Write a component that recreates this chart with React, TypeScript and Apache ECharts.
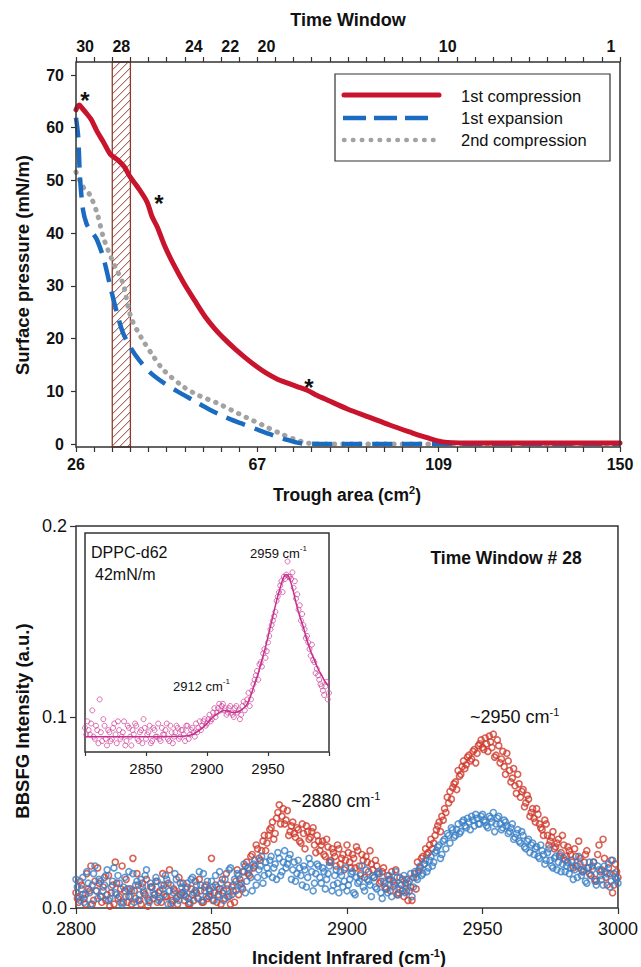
import React, { useEffect, useRef } from 'react';
import * as echarts from 'echarts';

const FONT = '"Liberation Sans", Arial, Helvetica, sans-serif';

// ---------- Top panel: isotherms (trough area cm^2 vs surface pressure mN/m) ----------
const compressionArea = [26, 26.7, 27.5, 28.5, 29.5, 30.8, 32.3, 33.8, 35.5, 37, 38.3, 40, 42.2, 43.3, 44.5, 46.2, 48.1, 50.6, 53, 55.4, 57.7, 60, 62.3, 64.7, 67, 69.3, 71.7, 74.1, 76.4, 78.7, 81, 83.4, 88, 92.8, 97.5, 102, 106, 109.6, 115, 130, 150];
const compressionPressure = [63.4, 64.3, 63.6, 62.6, 61.5, 59.3, 57.2, 55, 53.9, 52.6, 50.7, 48.8, 45.9, 43.2, 41.2, 37.6, 34.3, 30.5, 27.3, 24.2, 21.8, 19.8, 18.0, 16.3, 14.8, 13.5, 12.4, 11.6, 10.9, 10.2, 9.2, 8.3, 6.6, 5.1, 3.6, 2.3, 1.2, 0.4, 0.2, 0.2, 0.2];

const expansionArea = [26, 26.5, 26.9, 27.6, 28.4, 29.2, 30, 30.8, 32.2, 33, 34, 35.3, 36.7, 38.5, 40.4, 43, 46, 49.3, 52.7, 56.3, 60, 63.7, 67.5, 70.8, 74.1, 77.7, 85, 100, 120, 150];
const expansionPressure = [61.9, 58.3, 50.7, 44.4, 41.8, 40.6, 39.8, 38.7, 35.5, 32.8, 29.2, 25.0, 21.1, 18.2, 15.9, 13.5, 11.6, 9.9, 8.3, 6.6, 5.1, 3.9, 2.7, 1.7, 0.8, 0.1, 0, 0, 0, 0];

const compression2Area = [26, 27.6, 29.2, 30.8, 32.2, 33.3, 35, 36.7, 38.5, 40.8, 43.5, 46, 50.6, 54, 58.1, 61.5, 64.7, 68.5, 72.3, 75.5, 78.7, 82, 90, 110, 130, 150];
const compression2Pressure = [51.6, 48.8, 47.2, 43.8, 39.3, 36.8, 33.5, 30.5, 24.1, 20.3, 16.8, 14.0, 10.8, 9.2, 7.8, 6.4, 5.1, 3.6, 2.1, 1.0, 0.2, 0, 0, 0, 0, 0];

const seriesNames = ['1st compression', '1st expansion', '2nd compression'];
const timeWindows = ['30', '29', '28', '27', '26', '25', '24', '23', '22', '21', '20', '19', '18', '17', '16', '15', '14', '13', '12', '11', '10', '9', '8', '7', '6', '5', '4', '3', '2', '1'];
const timeWindowLabels = ['30', '28', '24', '22', '20', '10', '1'];
const troughTickLabels = ['26', '67', '109', '150'];
const hatchWindow = '28';

// ---------- Bottom panel: BBSFG spectra (intensity in 10^-3 a.u.) ----------
const irStart = 2800;
const irHalfStart = 2800.5;
const irStep = 1;
const redSignal = [
  8, 3, 12, 5, 18, 9, 2, 14, 21, 6,
  11, 4, 17, 8, 2, 13, 6, 22, 9, 3,
  10, 26, 5, 12, 2, 8, 15, 4, 11, 7,
  3, 9, 18, 6, 13, 2, 10, 5, 16, 8,
  4, 11, 2, 7, 14, 5, 9, 3, 12, 6,
  26, 8, 3, 10, 15, 5, 12, 2, 9, 14,
  7, 13, 19, 24, 17, 28, 22, 31, 25, 35,
  30, 38, 42, 36, 47, 54, 48, 44, 51, 40,
  45, 37, 41, 34, 39, 43, 36, 40, 33, 38,
  30, 35, 27, 32, 25, 29, 22, 31, 26, 20,
  33, 24, 28, 21, 30, 18, 25, 27, 19, 23,
  16, 22, 13, 19, 11, 17, 9, 14, 20, 8,
  12, 6, 15, 9, 4, 18, 24, 21, 27, 31,
  29, 36, 34, 41, 45, 48, 52, 58, 61, 63,
  66, 72, 70, 77, 75, 80, 78, 83, 81, 86,
  84, 89, 82, 87, 91, 80, 85, 78, 74, 81,
  72, 68, 64, 70, 58, 62, 55, 57, 50, 47,
  52, 44, 41, 46, 38, 35, 40, 32, 36, 29,
  33, 27, 30, 24, 31, 22, 26, 19, 28, 21,
  17, 24, 14, 33, 20, 26, 12, 18, 8, 23,
  16,
];
const redSignalHalf = [
  5, 14, 7, 2, 10, 22, 4, 9, 13, 3,
  16, 7, 1, 12, 24, 5, 10, 3, 15, 6,
  2, 9, 18, 4, 13, 7, 1, 11, 5, 14,
  8, 3, 12, 6, 20, 4, 9, 2, 7, 13,
  6, 2, 10, 4, 8, 15, 3, 11, 5, 9,
  4, 12, 7, 2, 9, 18, 6, 11, 3, 20,
  15, 10, 22, 18, 27, 21, 33, 26, 30, 38,
  34, 41, 45, 39, 50, 44, 52, 46, 38, 43,
  39, 42, 35, 44, 31, 40, 37, 42, 29, 35,
  33, 28, 36, 24, 31, 27, 33, 23, 28, 25,
  29, 21, 26, 32, 22, 28, 16, 24, 30, 20,
  25, 18, 14, 21, 10, 15, 19, 12, 7, 16,
  9, 13, 4, 11, 16, 10, 19, 26, 23, 28,
  33, 31, 38, 43, 40, 46, 50, 55, 57, 65,
  62, 69, 74, 73, 79, 77, 82, 76, 85, 88,
  83, 86, 90, 84, 79, 88, 76, 82, 70, 77,
  66, 73, 60, 65, 61, 53, 59, 48, 52, 45,
  49, 42, 38, 44, 33, 37, 31, 34, 27, 38,
  25, 32, 28, 21, 27, 35, 20, 24, 30, 18,
  22, 15, 28, 19, 36, 16, 21, 25, 12, 19,
];
const blueSignal = [
  15, 6, 10, 3, 19, 8, 12, 22, 5, 14,
  9, 17, 4, 11, 21, 7, 13, 2, 16, 10,
  6, 18, 12, 4, 15, 9, 20, 3, 11, 7,
  14, 5, 10, 17, 2, 12, 8, 15, 4, 11,
  7, 13, 3, 16, 9, 5, 12, 18, 6, 10,
  14, 4, 11, 19, 8, 15, 6, 21, 12, 9,
  17, 11, 23, 14, 20, 9, 25, 16, 22, 13,
  24, 18, 27, 21, 15, 26, 19, 30, 23, 28,
  20, 14, 25, 17, 22, 11, 26, 19, 13, 23,
  16, 21, 10, 18, 24, 12, 20, 8, 17, 14,
  9, 15, 19, 7, 13, 17, 11, 20, 14, 6,
  16, 10, 18, 5, 13, 8, 15, 11, 19, 7,
  12, 17, 9, 14, 6, 19, 15, 22, 18, 25,
  21, 27, 24, 30, 33, 28, 36, 39, 34, 41,
  38, 44, 40, 46, 42, 45, 48, 43, 47, 44,
  49, 45, 42, 47, 50, 44, 48, 41, 46, 43,
  40, 44, 37, 41, 34, 38, 31, 36, 33, 28,
  32, 26, 30, 23, 29, 25, 21, 27, 24, 19,
  26, 22, 18, 25, 20, 16, 23, 19, 14, 21,
  17, 24, 12, 20, 15, 22, 18, 11, 25, 16,
  13,
];
const blueSignalHalf = [
  11, 4, 16, 7, 13, 2, 18, 9, 15, 6,
  12, 20, 5, 14, 8, 17, 3, 11, 6, 19,
  9, 3, 14, 7, 11, 17, 5, 13, 8, 16,
  4, 12, 7, 15, 9, 3, 18, 6, 13, 8,
  10, 5, 15, 8, 12, 19, 4, 9, 14, 7,
  11, 17, 6, 13, 4, 10, 20, 7, 15, 18,
  12, 19, 8, 21, 16, 23, 12, 20, 27, 17,
  21, 25, 16, 23, 29, 17, 24, 21, 26, 15,
  24, 18, 21, 12, 20, 16, 23, 9, 18, 22,
  13, 19, 15, 22, 9, 17, 13, 19, 11, 21,
  12, 18, 8, 16, 14, 22, 9, 15, 12, 17,
  11, 19, 8, 14, 10, 17, 6, 13, 16, 10,
  15, 8, 13, 18, 11, 16, 20, 17, 23, 19,
  25, 22, 29, 32, 26, 35, 31, 38, 42, 37,
  41, 39, 45, 43, 47, 41, 46, 49, 44, 48,
  46, 43, 48, 45, 40, 47, 44, 42, 45, 39,
  42, 36, 39, 35, 40, 32, 35, 29, 34, 31,
  27, 33, 28, 25, 31, 22, 26, 20, 28, 23,
  19, 24, 21, 15, 22, 27, 17, 20, 13, 24,
  20, 14, 22, 17, 12, 19, 23, 14, 18, 15,
];

// Inset: DPPC-d62 at 42 mN/m (arbitrary units)
const insetStart = 2800;
const insetHalfStart = 2801;
const insetStep = 2;
const insetPoints = [
  0.11, 0.14, 0.08, 0.19, 0.06, 0.10, 0.24, 0.05, 0.12, 0.03,
  0.09, 0.06, 0.13, 0.04, 0.10, 0.07, 0.14, 0.05, 0.11, 0.03,
  0.08, 0.12, 0.05, 0.10, 0.15, 0.06, 0.09, 0.04, 0.11, 0.07,
  0.13, 0.05, 0.08, 0.10, 0.06, 0.12, 0.04, 0.09, 0.11, 0.07,
  0.10, 0.05, 0.12, 0.08, 0.11, 0.07, 0.09, 0.14, 0.12, 0.15,
  0.13, 0.17, 0.15, 0.20, 0.18, 0.22, 0.21, 0.19, 0.17, 0.20,
  0.18, 0.16, 0.21, 0.19, 0.17, 0.23, 0.22, 0.27, 0.24, 0.31,
  0.35, 0.33, 0.41, 0.45, 0.43, 0.50, 0.56, 0.60, 0.64, 0.71,
  0.76, 0.73, 0.79, 0.87, 0.80, 0.82, 0.78, 0.72, 0.67, 0.63,
  0.56, 0.53, 0.47, 0.49, 0.41, 0.38, 0.33, 0.30, 0.26, 0.32,
  0.27,
];
const insetPointsHalf = [
  0.08, 0.10, 0.13, 0.07, 0.12, 0.04, 0.09, 0.15, 0.06, 0.10,
  0.05, 0.11, 0.08, 0.14, 0.06, 0.09, 0.03, 0.12, 0.07, 0.10,
  0.13, 0.06, 0.09, 0.04, 0.11, 0.08, 0.12, 0.05, 0.10, 0.07,
  0.06, 0.11, 0.08, 0.13, 0.05, 0.09, 0.07, 0.12, 0.06, 0.10,
  0.08, 0.12, 0.06, 0.10, 0.09, 0.13, 0.11, 0.10, 0.14, 0.12,
  0.15, 0.14, 0.18, 0.16, 0.20, 0.19, 0.22, 0.20, 0.18, 0.21,
  0.17, 0.20, 0.18, 0.15, 0.21, 0.19, 0.24, 0.21, 0.28, 0.33,
  0.37, 0.40, 0.39, 0.47, 0.46, 0.53, 0.58, 0.62, 0.69, 0.73,
  0.78, 0.80, 0.81, 0.80, 0.79, 0.75, 0.70, 0.65, 0.60, 0.58,
  0.52, 0.50, 0.44, 0.42, 0.36, 0.35, 0.31, 0.28, 0.30, 0.24,
];
const insetFitX = [2800, 2850, 2880, 2888, 2894, 2900, 2905, 2910, 2914, 2918, 2922, 2926, 2930, 2933, 2936, 2939, 2942, 2945, 2948, 2951, 2954, 2957, 2960, 2963, 2965, 2967, 2970, 2973, 2976, 2979, 2982, 2985, 2988, 2991, 2994, 2997, 3000];
const insetFitY = [0.07, 0.07, 0.072, 0.08, 0.1, 0.13, 0.16, 0.18, 0.19, 0.185, 0.18, 0.185, 0.2, 0.22, 0.26, 0.31, 0.36, 0.42, 0.48, 0.55, 0.62, 0.69, 0.75, 0.8, 0.81, 0.8, 0.75, 0.68, 0.62, 0.57, 0.51, 0.46, 0.42, 0.38, 0.35, 0.32, 0.3];

const RED_LINE = '#c8142c';
const BLUE_LINE = '#1b6cc0';
const GRAY_LINE = '#a2a2a2';
const RED_PT = '#cf3a2c';
const BLUE_PT = '#3a7fc6';
const MAG = '#d24b9f';
const HATCH = '#8e3b2f';
const AX = '#333';

const supRich = (size: number, weight: string) => ({
  b: { fontSize: size, fontWeight: weight, fontFamily: FONT, fill: '#111', color: '#111', verticalAlign: 'bottom' },
  s: { fontSize: Math.round(size * 0.62), fontWeight: weight, fontFamily: FONT, fill: '#111', color: '#111', verticalAlign: 'bottom', padding: [0, 0, Math.round(size * 0.5), 0] },
});

export default function App() {
  const ref = useRef<HTMLDivElement>(null);
  useEffect(() => {
    document.body.style.margin = '0';
    if (!ref.current) return;
    const chart = echarts.init(ref.current, undefined, { renderer: 'svg' });

    const pairs = (xs: number[], ys: number[]) => xs.map((x, i) => [x, ys[i]]);
    const spectrum = (vals: number[], start: number, step: number) => vals.map((v, i) => [start + i * step, v]);

    const tickStyle = { color: AX, width: 1.2 };
    const boldTick = { fontSize: 16, fontWeight: 'bold', color: '#111', fontFamily: FONT };

    const option: any = {
      animation: false,
      backgroundColor: '#ffffff',
      textStyle: { fontFamily: FONT },
      grid: [
        { left: 76, right: 21, top: 75, bottom: 523 },
        { left: 76, right: 21, top: 526, bottom: 59, show: true, borderColor: AX, borderWidth: 1.5, backgroundColor: 'transparent' },
        { left: 85, right: 312, top: 533, bottom: 215, show: true, borderColor: AX, borderWidth: 1.5, backgroundColor: '#ffffff', z: 3 },
      ],
      xAxis: [
        { type: 'value', gridIndex: 0, min: 26, max: 150, show: false },
        {
          type: 'value', gridIndex: 0, min: 0, max: 30, interval: 1, position: 'bottom', offset: 3,
          axisLine: { show: false }, splitLine: { show: false },
          axisTick: { show: true, length: 5, lineStyle: tickStyle },
          axisLabel: { ...boldTick, margin: 9,
            formatter: (v: number) => (Math.round(v) % 10 === 0 ? troughTickLabels[Math.round(v) / 10] : '') },
        },
        {
          type: 'category', gridIndex: 0, data: timeWindows, position: 'top', offset: 13, boundaryGap: true,
          axisLine: { show: false }, splitLine: { show: false },
          axisTick: { show: true, interval: 0, length: 5, lineStyle: tickStyle },
          axisLabel: { ...boldTick, interval: 0, margin: 8,
            formatter: (v: string) => (timeWindowLabels.includes(v) ? v : '') },
        },
        {
          type: 'value', gridIndex: 1, min: 2800, max: 3000, interval: 50,
          axisLine: { show: false }, splitLine: { show: false },
          axisTick: { show: true, length: 6, lineStyle: tickStyle },
          axisLabel: { margin: 12, fontSize: 18, color: '#111', fontFamily: FONT, formatter: (v: number) => String(v) },
        },
        {
          type: 'value', gridIndex: 2, min: 2800, max: 3000, interval: 50,
          axisLine: { show: false }, splitLine: { show: false },
          axisTick: { show: true, length: 4, lineStyle: tickStyle },
          axisLabel: { margin: 9, fontSize: 15, color: '#111', fontFamily: FONT,
            formatter: (v: number) => (v === 2800 || v === 3000 ? '' : String(v)) },
        },
      ],
      yAxis: [
        {
          type: 'value', gridIndex: 0, min: 0, max: 70, interval: 10,
          axisLine: { show: false }, splitLine: { show: false },
          axisTick: { show: true, length: 5, lineStyle: tickStyle },
          axisLabel: { ...boldTick, margin: 12 },
        },
        {
          type: 'value', gridIndex: 1, min: 0, max: 200, interval: 100,
          axisLine: { show: false }, splitLine: { show: false },
          axisTick: { show: true, length: 6, lineStyle: tickStyle },
          axisLabel: { margin: 9, fontSize: 18, color: '#111', fontFamily: FONT,
            formatter: (v: number) => (v / 1000).toFixed(1) },
        },
        { type: 'value', gridIndex: 2, min: 0, max: 1, show: false },
      ],
      series: [
        {
          type: 'custom', xAxisIndex: 2, yAxisIndex: 0, z: 1, silent: true,
          data: [[hatchWindow, 0]],
          renderItem: (params: any, api: any) => {
            const cs = params.coordSys;
            const c = api.coord([api.value(0), 0]);
            const bw = api.size([1, 0])[0];
            const x0 = c[0] - bw / 2;
            const top = cs.y - 13;
            const bottom = cs.y + cs.height + 3;
            const children: any[] = [
              { type: 'rect', shape: { x: x0, y: top, width: bw, height: bottom - top }, style: { fill: 'none', stroke: HATCH, lineWidth: 1.3 } },
            ];
            const s = 8;
            for (let k = top + s; k < bottom + bw; k += s) {
              const xs = x0 + Math.max(0, k - bottom);
              const xe = x0 + Math.min(bw, k - top);
              if (xe <= xs) continue;
              children.push({ type: 'line', shape: { x1: xs, y1: k - (xs - x0), x2: xe, y2: k - (xe - x0) }, style: { stroke: HATCH, lineWidth: 1 } });
            }
            return { type: 'group', children };
          },
        },
        {
          name: seriesNames[2], type: 'line', xAxisIndex: 0, yAxisIndex: 0, symbol: 'none', smooth: 0.3,
          data: pairs(compression2Area, compression2Pressure),
          lineStyle: { color: GRAY_LINE, width: 5, type: [0.5, 8], cap: 'round' },
        },
        {
          name: seriesNames[1], type: 'line', xAxisIndex: 0, yAxisIndex: 0, symbol: 'none', smooth: 0.3,
          data: pairs(expansionArea, expansionPressure),
          lineStyle: { color: BLUE_LINE, width: 4.5, type: [20, 10] },
        },
        {
          name: seriesNames[0], type: 'line', xAxisIndex: 0, yAxisIndex: 0, symbol: 'none', smooth: 0.3,
          data: pairs(compressionArea, compressionPressure),
          lineStyle: { color: RED_LINE, width: 5, cap: 'round', join: 'round' },
        },
        {
          type: 'scatter', xAxisIndex: 3, yAxisIndex: 1, symbol: 'circle', symbolSize: 6,
          data: spectrum(redSignal, irStart, irStep).concat(spectrum(redSignalHalf, irHalfStart, irStep)),
          itemStyle: { color: 'rgba(0,0,0,0)', borderColor: RED_PT, borderWidth: 1.6 },
        },
        {
          type: 'scatter', xAxisIndex: 3, yAxisIndex: 1, symbol: 'circle', symbolSize: 6,
          data: spectrum(blueSignal, irStart, irStep).concat(spectrum(blueSignalHalf, irHalfStart, irStep)),
          itemStyle: { color: 'rgba(0,0,0,0)', borderColor: BLUE_PT, borderWidth: 1.6 },
        },
        {
          type: 'scatter', xAxisIndex: 4, yAxisIndex: 2, symbol: 'circle', symbolSize: 5, z: 4,
          data: spectrum(insetPoints, insetStart, insetStep).concat(spectrum(insetPointsHalf, insetHalfStart, insetStep)),
          itemStyle: { color: 'rgba(0,0,0,0)', borderColor: MAG, borderWidth: 1 },
        },
        {
          type: 'line', xAxisIndex: 4, yAxisIndex: 2, symbol: 'none', smooth: 0.4, z: 5,
          data: pairs(insetFitX, insetFitY),
          lineStyle: { color: '#c42f8c', width: 1.5 },
        },
      ],
      graphic: [
        // frame of the isotherm panel
        { type: 'rect', z: 10, shape: { x: 76, y: 62, width: 544, height: 385 }, style: { fill: 'none', stroke: AX, lineWidth: 1.5 } },
        // legend
        { type: 'rect', z: 10, shape: { x: 335, y: 74, width: 275, height: 87 }, style: { fill: '#fff', stroke: AX, lineWidth: 1.2 } },
        { type: 'line', z: 11, shape: { x1: 344, y1: 95, x2: 439, y2: 95 }, style: { stroke: RED_LINE, lineWidth: 5, lineCap: 'round' } },
        { type: 'line', z: 11, shape: { x1: 343, y1: 118, x2: 428, y2: 118 }, style: { stroke: BLUE_LINE, lineWidth: 4.5, lineDash: [23, 8] } },
        { type: 'line', z: 11, shape: { x1: 344, y1: 140, x2: 437, y2: 140 }, style: { stroke: GRAY_LINE, lineWidth: 4.5, lineDash: [0.5, 8.4], lineCap: 'round' } },
        { type: 'text', z: 11, x: 461, y: 96, style: { text: seriesNames[0], fontSize: 16.5, fontFamily: FONT, fill: '#111', align: 'left', verticalAlign: 'middle' } },
        { type: 'text', z: 11, x: 461, y: 118, style: { text: seriesNames[1], fontSize: 16.5, fontFamily: FONT, fill: '#111', align: 'left', verticalAlign: 'middle' } },
        { type: 'text', z: 11, x: 461, y: 140, style: { text: seriesNames[2], fontSize: 16.5, fontFamily: FONT, fill: '#111', align: 'left', verticalAlign: 'middle' } },
        // stars
        { type: 'text', z: 11, x: 85, y: 100, style: { text: '*', fontSize: 24, fontWeight: 'bold', fontFamily: FONT, fill: '#111', align: 'center', verticalAlign: 'middle' } },
        { type: 'text', z: 11, x: 159, y: 203, style: { text: '*', fontSize: 24, fontWeight: 'bold', fontFamily: FONT, fill: '#111', align: 'center', verticalAlign: 'middle' } },
        { type: 'text', z: 11, x: 309, y: 387, style: { text: '*', fontSize: 24, fontWeight: 'bold', fontFamily: FONT, fill: '#111', align: 'center', verticalAlign: 'middle' } },
        // axis titles (top panel)
        { type: 'text', z: 11, x: 348, y: 20, style: { text: 'Time Window', fontSize: 18, fontWeight: 'bold', fontFamily: FONT, fill: '#111', align: 'center', verticalAlign: 'middle' } },
        { type: 'text', z: 11, x: 347, y: 494, style: { text: '{b|Trough area (cm}{s|2}{b|)}', rich: supRich(17.5, 'bold'), align: 'center', verticalAlign: 'middle' } },
        { type: 'text', z: 11, x: 22, y: 265, rotation: Math.PI / 2, style: { text: 'Surface pressure (mN/m)', fontSize: 18.5, fontWeight: 'bold', fontFamily: FONT, fill: '#111', align: 'center', verticalAlign: 'middle' } },
        // bottom panel titles
        { type: 'text', z: 11, x: 349, y: 957, style: { text: '{b|Incident Infrared (cm}{s|-1}{b|)}', rich: supRich(18, 'bold'), align: 'center', verticalAlign: 'middle' } },
        { type: 'text', z: 11, x: 22, y: 721, rotation: Math.PI / 2, style: { text: 'BBSFG Intensity (a.u.)', fontSize: 18.5, fontWeight: 'bold', fontFamily: FONT, fill: '#111', align: 'center', verticalAlign: 'middle' } },
        { type: 'text', z: 11, x: 506, y: 558, style: { text: 'Time Window # 28', fontSize: 17.5, fontWeight: 'bold', fontFamily: FONT, fill: '#111', align: 'center', verticalAlign: 'middle' } },
        { type: 'text', z: 11, x: 470, y: 716, style: { text: '{b|~2950 cm}{s|-1}', rich: supRich(18, 'normal'), align: 'left', verticalAlign: 'middle' } },
        { type: 'text', z: 11, x: 291, y: 800, style: { text: '{b|~2880 cm}{s|-1}', rich: supRich(18, 'normal'), align: 'left', verticalAlign: 'middle' } },
        // inset texts
        { type: 'text', z: 11, x: 91, y: 552, style: { text: 'DPPC-d62', fontSize: 16, fontFamily: FONT, fill: '#111', align: 'left', verticalAlign: 'middle' } },
        { type: 'text', z: 11, x: 95, y: 574, style: { text: '42mN/m', fontSize: 16, fontFamily: FONT, fill: '#111', align: 'left', verticalAlign: 'middle' } },
        { type: 'text', z: 11, x: 250, y: 552, style: { text: '{b|2959 cm}{s|-1}', rich: supRich(13, 'normal'), align: 'left', verticalAlign: 'middle' } },
        { type: 'text', z: 11, x: 173, y: 685, style: { text: '{b|2912 cm}{s|-1}', rich: supRich(13, 'normal'), align: 'left', verticalAlign: 'middle' } },
      ],
    };

    chart.setOption(option);
    return () => chart.dispose();
  }, []);

  return <div ref={ref} style={{ width: 641, height: 967 }} />;
}
